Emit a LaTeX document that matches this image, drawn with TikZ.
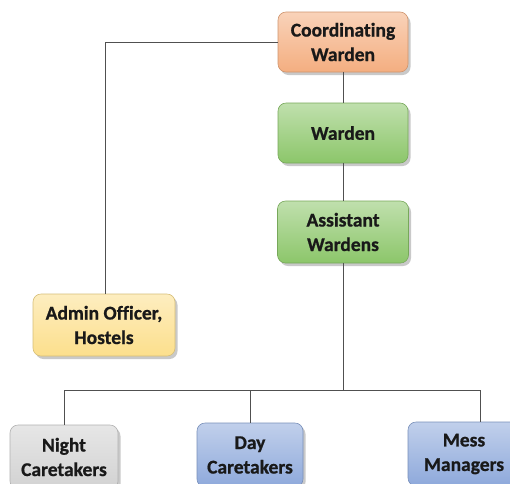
\documentclass[tikz,border=0pt]{standalone}
\usepackage{fontspec}
\setmainfont[Ligatures={NoCommon},BoldFeatures={FakeBold=0.8}]{Carlito}
\usetikzlibrary{shadows}
\definecolor{orangeb}{HTML}{F4AE80}
\definecolor{greenb}{HTML}{8CC66A}
\definecolor{yellowb}{HTML}{FCDF8C}
\definecolor{greyb}{HTML}{D2D2D2}
\definecolor{blueb}{HTML}{8EA9DB}
\definecolor{linec}{HTML}{505050}
\tikzset{
  box/.style={rounded corners=8pt, align=center, inner sep=0pt,
    font=\bfseries\fontsize{19.5}{24.5}\selectfont, text=black!90,
    draw=#1!85!black, line width=0.6pt, top color=#1!55!white, bottom color=#1,
    drop shadow={shadow xshift=2.5pt, shadow yshift=-3pt, opacity=0.35, fill=black!60}},
  conn/.style={draw=linec, line width=0.9pt}
}
\begin{document}
\begin{tikzpicture}[x=1pt,y=-1pt]
\useasboundingbox (0,0) rectangle (510,483);
\clip (0,0) rectangle (510,483);
\fill[white] (0,0) rectangle (510,483);
\node[box=orangeb, minimum width=130pt, minimum height=60pt] (cw) at (343,42) {Coordinating\\Warden};
\node[box=greenb, minimum width=130pt, minimum height=60pt] (w) at (343,133) {Warden};
\node[box=greenb, minimum width=131pt, minimum height=62pt] (aw) at (343,232) {Assistant\\Wardens};
\node[box=yellowb, minimum width=142pt, minimum height=62pt] (ao) at (104,325) {Admin Officer,\\Hostels};
\node[box=greyb, minimum width=108pt, minimum height=64pt] (night) at (64,457) {Night\\Caretakers};
\node[box=blueb, minimum width=106pt, minimum height=64pt] (day) at (250,455) {Day\\Caretakers};
\node[box=blueb, minimum width=112pt, minimum height=64pt] (mess) at (464,454) {Mess\\Managers};
\coordinate (bus) at (343,390);
\coordinate (lcorner) at (105,42);
\coordinate (rdrop) at (480,390);
\draw[conn] (cw.west) -- (lcorner) -- (lcorner |- ao.north);
\draw[conn] (cw.south) -- (w.north);
\draw[conn] (w.south) -- (aw.north);
\draw[conn] (aw.south) -- (bus);
\draw[conn] (night.north) |- (bus) -- (rdrop) -- (rdrop |- mess.north);
\draw[conn] (day.north) -- (day.north |- bus);
\end{tikzpicture}
\end{document}
